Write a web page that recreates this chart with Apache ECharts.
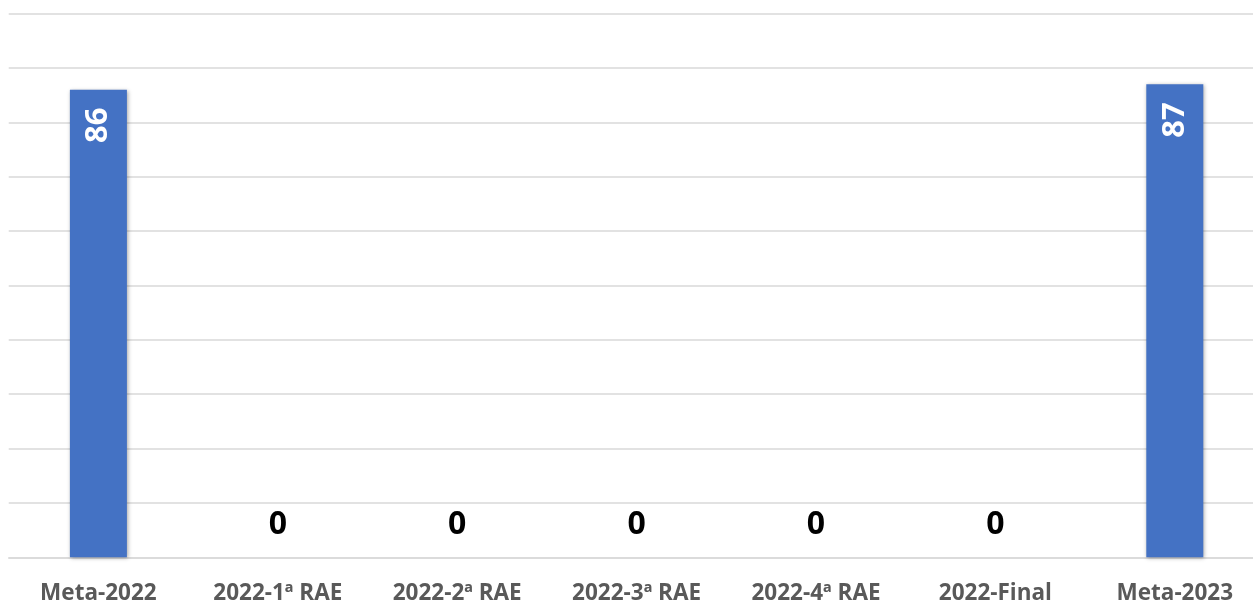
<!DOCTYPE html>
<html>
<head>
<meta charset="utf-8">
<script src="https://cdn.jsdelivr.net/npm/echarts@6/dist/echarts.min.js"></script>
<style>
html,body{margin:0;padding:0;background:#fff;overflow:hidden;width:1253px;height:602px;}
#chart{width:1265px;height:602px;}
</style>
</head>
<body>
<div id="chart"></div>
<script>
const categories = ['Meta-2022', '2022-1ª RAE', '2022-2ª RAE', '2022-3ª RAE', '2022-4ª RAE', '2022-Final', 'Meta-2023'];
const values = [86, 0, 0, 0, 0, 0, 87];

const fontFam = '"Open Sans", "Liberation Sans", sans-serif';
const insideLabel = {
  show: true, position: 'insideTop', distance: 18, rotate: 90,
  align: 'right', verticalAlign: 'middle',
  color: '#ffffff', fontWeight: 'bold', fontSize: 31, fontFamily: fontFam
};
const zeroLabel = {
  show: true, position: 'top', distance: 16,
  color: '#000000', fontWeight: 'bold', fontSize: 32, fontFamily: fontFam
};

const seriesData = values.map(v => ({ value: v, label: v > 0 ? insideLabel : zeroLabel }));

const chart = echarts.init(document.getElementById('chart'), null, { renderer: 'canvas' });
chart.setOption({
  animation: false,
  grid: { left: 8.7, right: 0.5, top: 13.5, bottom: 44.7, containLabel: false, outerBoundsMode: 'none' },
  xAxis: {
    type: 'category', data: categories,
    axisLine: { show: true, lineStyle: { color: '#d9d9d9', width: 1.5 } },
    axisTick: { show: false },
    axisLabel: { color: '#595959', fontWeight: 'bold', fontSize: 22.5, fontFamily: fontFam, margin: 25 }
  },
  yAxis: {
    type: 'value', min: 0, max: 100, interval: 10,
    axisLabel: { show: false }, axisLine: { show: false }, axisTick: { show: false },
    splitLine: { lineStyle: { color: '#d9d9d9', width: 1.5 } }
  },
  series: [{
    type: 'bar', data: seriesData, barWidth: 57,
    itemStyle: { color: '#4472C4', shadowColor: 'rgba(0,0,0,0.35)', shadowBlur: 4, shadowOffsetX: 1, shadowOffsetY: 1 }
  }]
});
</script>
</body>
</html>
